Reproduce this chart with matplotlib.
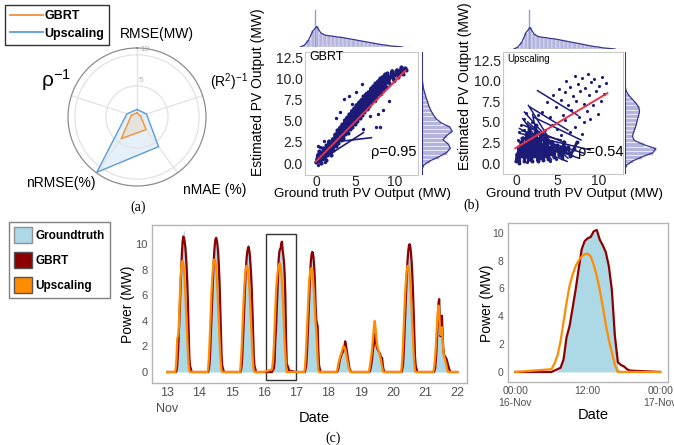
import numpy as np
import matplotlib
matplotlib.use("Agg")
import matplotlib.pyplot as plt
from matplotlib.patches import Patch, Rectangle
from matplotlib.lines import Line2D

plt.rcParams['font.family'] = ['Liberation Sans', 'DejaVu Sans']
plt.rcParams['mathtext.fontset'] = 'custom'
plt.rcParams['mathtext.rm'] = 'Liberation Sans'
plt.rcParams['mathtext.it'] = 'Liberation Sans:italic'

# ---------------- data ----------------
# (a) error metrics per method
metric_names = ['RMSE(MW)', '(R$^2$)$^{-1}$', 'nMAE (%)', 'nRMSE(%)', 'ρ$^{-1}$']
gbrt_metrics = [0.65, 0.6, 2.5, 4.3, 0.95]
upscaling_metrics = [1.2, 1.6, 5.9, 11.0, 1.7]

# (b) estimated vs ground-truth PV output (MW); the "track" samples are consecutive records
gbrt_track_true = [0.0, 0.1, 0.2, 0.3, 0.4, 0.5, 0.6, 0.7, 0.8, 0.9, 1.0, 1.1, 1.2, 1.3, 1.4,
                   1.5, 1.6, 1.7, 1.8, 1.9, 2.0,
                   2.1, 2.2, 2.3, 2.4, 2.5, 2.6, 2.7, 2.8, 2.9, 3.0, 3.1, 3.2, 3.3, 3.4, 3.5,
                   3.6, 3.7, 3.8, 3.9, 4.0, 4.1, 4.2, 4.3, 4.4, 4.5, 4.6, 4.7, 4.8, 4.9, 5.0,
                   5.1, 5.2, 5.3, 5.4, 5.5, 5.6, 5.7, 5.8, 5.9, 6.0,
                   6.1, 6.2, 6.3, 6.4, 6.5, 6.6, 6.7, 6.8, 6.9, 7.0, 7.1, 7.2, 7.3, 7.4, 7.5,
                   7.6, 7.7, 7.8, 7.9, 8.0, 8.1, 8.2, 8.3, 8.4, 8.5, 8.6, 8.7, 8.8, 8.9, 9.0,
                   9.2, 9.4, 9.6, 9.8, 10.0, 10.2, 10.4, 10.6, 10.8, 11.0, 11.2, 11.4]
gbrt_track_pred = [0.1, 0.5, 1.0, 0.2, 1.4, 0.7, 0.0, 1.2, 0.5, 1.8, 0.9, 1.4, 0.4, 2.1, 1.0,
                   1.7, 2.6, 1.3, 2.2, 0.9, 1.8,
                   2.9, 1.6, 2.3, 3.4, 2.0, 2.8, 3.9, 2.4, 3.3, 4.2, 2.7, 3.6, 4.6, 3.0, 3.9,
                   5.1, 3.4, 4.3, 5.4, 3.6, 4.7, 5.8, 4.0, 5.0, 6.2, 4.3, 5.4, 6.5, 4.6, 5.7,
                   6.9, 5.0, 6.1, 7.2, 5.3, 6.4, 7.5, 5.7, 6.8, 7.9,
                   6.0, 7.1, 8.2, 6.4, 7.4, 8.4, 6.7, 7.8, 8.8, 7.1, 8.1, 9.1, 7.4, 8.4, 9.4,
                   7.7, 8.7, 9.7, 8.1, 9.0, 10.0, 8.4, 9.3, 10.2, 8.7, 9.6, 10.5, 9.0, 9.9, 10.6,
                   9.4, 10.2, 10.9, 9.8, 10.5, 11.0, 10.1, 10.8, 11.3, 10.5, 11.2, 11.0]
gbrt_other_true = [0.2, 0.5, 1.0, 0.3, 1.1, 3.5, 4.2, 5.0, 4.6, 5.8, 6.0, 7.6, 8.1, 7.8, 8.5,
                   9.2, 6.8, 3.0, 2.5, 0.6, 1.4, 2.2, 3.0, 3.8, 4.6, 5.4, 6.2, 7.0, 7.8, 8.6,
                   9.4, 10.2, 0.4, 1.8, 2.6, 3.4, 4.2, 5.0, 5.8, 6.6, 7.4, 8.2, 9.0, 9.8]
gbrt_other_pred = [2.0, 1.9, 2.6, -0.2, 0.1, 7.6, 7.9, 8.4, 7.0, 9.3, 4.0, 4.3, 4.2, 5.8, 6.3,
                   7.3, 5.5, 6.0, 5.3, 1.0, 1.8, 2.6, 3.5, 4.3, 5.1, 6.0, 6.8, 7.6, 8.5, 9.3,
                   10.1, 10.9, 0.6, 1.5, 2.4, 3.2, 4.0, 4.9, 5.7, 6.5, 7.3, 8.1, 9.0, 9.7]
gbrt_streak_x = [[1.5, 7.0], [2.0, 6.0]]
gbrt_streak_y = [[2.4, 3.0], [1.2, 3.6]]
gbrt_fit_x = [0.0, 11.3]
gbrt_fit_y = [0.2, 10.9]

up_track_true = [0.0, 0.1, 0.2, 0.3, 0.4, 0.5, 0.6, 0.7, 0.8, 0.9, 1.0, 1.1, 1.2, 1.3, 1.4,
                 1.5, 1.6, 1.7, 1.8, 1.9, 2.0, 2.1, 2.2, 2.3, 2.4, 2.5, 2.6, 2.7, 2.8, 2.9,
                 3.0, 3.1, 3.2, 3.3, 3.4, 3.5, 3.6, 3.7, 3.8, 3.9, 4.0,
                 4.2, 4.4, 4.6, 4.8, 5.0, 5.2, 5.4, 5.6, 5.8, 6.0, 6.3, 6.6, 7.0, 7.4]
up_track_pred = [0.2, 1.1, 0.5, 2.0, 0.0, 1.5, 2.6, 0.8, 3.1, 1.9, 0.3, 2.4, 1.2, 3.6, 0.6,
                 2.0, 4.2, 1.0, 2.9, 0.2, 1.6, 3.3, 0.8, 2.2, 4.6, 1.2, 0.3, 2.7, 1.7, 0.6,
                 3.5, 1.3, 2.2, 0.4, 1.8, 2.9, 0.9, 1.5, 2.4, 0.5, 1.9,
                 1.1, 2.6, 0.7, 1.6, 2.2, 1.0, 1.9, 0.6, 2.6, 1.3, 2.0, 0.9, 1.7, 2.5]
up_other_true = [0.3, 0.6, 1.0, 1.2, 0.9, 0.2, 1.9, 0.1, 0.4, 0.7, 1.0, 1.3, 1.6, 0.5, 0.8,
                 1.5, 2.0, 2.6, 3.3, 4.1, 4.9,
                 3.2, 3.8, 4.1, 4.5, 4.9, 5.2, 5.4, 5.7, 5.9, 6.1, 6.3, 6.5, 6.7, 6.9, 7.1,
                 7.3, 7.5, 7.7, 7.8, 8.0, 8.2, 8.4, 8.6, 8.7, 8.9, 9.1, 9.3, 9.5, 9.7, 9.9,
                 10.1, 10.3, 10.5, 10.7, 10.9, 4.4, 5.0, 6.0, 7.2, 8.3, 9.0, 3.5, 2.7, 6.6,
                 8.0, 5.5]
up_other_pred = [3.8, 4.6, 5.3, 6.1, 4.0, 2.8, 5.0, 0.6, 0.3, 1.6, 1.0, 0.1, 1.3, 0.9, 2.2,
                 0.4, 0.9, 1.9, 1.0, 0.3, 0.5,
                 6.2, 7.4, 5.6, 8.3, 6.8, 9.0, 7.7, 5.9, 8.6, 10.0, 7.1, 9.3, 6.4, 8.2, 10.6,
                 7.6, 9.6, 5.6, 8.8, 10.3, 7.2, 9.1, 6.3, 10.8, 8.3, 9.8, 7.0, 10.2, 8.8, 6.0,
                 9.4, 7.6, 10.5, 8.4, 9.7, 4.6, 4.2, 5.2, 4.4, 5.0, 5.3, 4.0, 5.8, 3.8,
                 3.5, 3.4]
up_streak_x0 = [2.6, 1.7, 2.1, 0.5, 1.3, 1.0, 0.8, 0.4, 1.5, 0.6, 0.9, 2.0, 0.3, 1.1, 1.4, 0.7]
up_streak_y0 = [8.8, 6.8, 5.6, 3.6, 4.8, 6.2, 5.4, 4.2, 7.0, 3.0, 4.6, 5.9, 2.6, 3.4, 5.0, 3.9]
up_streak_x1 = [7.5, 6.3, 7.9, 9.0, 6.3, 5.2, 4.3, 6.9, 3.8, 7.6, 5.8, 3.0, 6.2, 8.2, 4.8, 5.5]
up_streak_y1 = [5.8, 4.0, 2.8, 1.6, 0.6, 1.5, 0.4, 0.9, 3.3, 0.6, 2.5, 1.0, 0.2, 1.2, 2.0, 2.8]
up_fit_x = [-0.1, 11.1]
up_fit_y = [1.8, 8.5]

# marginal distributions (relative density per 0.5 MW bin)
bin_centres = [-0.75, -0.25, 0.25, 0.75, 1.25, 1.75, 2.25, 2.75, 3.25, 3.75, 4.25, 4.75, 5.25,
               5.75, 6.25, 6.75, 7.25, 7.75, 8.25, 8.75, 9.25, 9.75, 10.25, 10.75, 11.25, 11.75]
truth_density = [0.0, 0.05, 0.18, 0.42, 0.55, 0.38, 0.32, 0.30, 0.29, 0.27, 0.26, 0.24, 0.22,
                 0.20, 0.18, 0.16, 0.14, 0.12, 0.10, 0.08, 0.06, 0.05, 0.03, 0.02, 0.01, 0.0]
truth_zero_peak = (1.1, 1.0)
gbrt_pred_density = [0.0, 0.05, 0.25, 0.55, 0.80, 0.92, 0.85, 0.68, 0.80, 0.98, 0.90, 0.62, 0.45,
                     0.36, 0.28, 0.22, 0.18, 0.13, 0.09, 0.05, 0.03, 0.01, 0.0, 0.0, 0.0, 0.0]
up_pred_density = [0.0, 0.05, 0.25, 0.55, 0.90, 1.0, 0.60, 0.30, 0.24, 0.28, 0.33, 0.37, 0.40,
                   0.44, 0.47, 0.45, 0.36, 0.24, 0.12, 0.04, 0.01, 0.0, 0.0, 0.0, 0.0, 0.0]

# (c) half-hourly power (MW) from 06:00 to 19:00, 13-21 Nov
first_day = 13
groundtruth_days = [
    [0, 0, 0.1, 0.4, 1.3, 2.6, 3.6, 5.0, 6.6, 7.9, 9.4, 10.4, 11.0, 11.1, 10.8, 10.3, 9.6, 8.7, 7.4, 5.6, 3.4, 1.4, 0.4, 0.1, 0, 0, 0],
    [0, 0, 0.1, 0.5, 1.4, 2.7, 4.0, 5.4, 6.9, 8.1, 9.1, 9.8, 10.2, 10.3, 10.1, 9.7, 9.0, 8.0, 6.7, 5.0, 3.0, 1.2, 0.3, 0.1, 0, 0, 0],
    [0, 0, 0.1, 0.4, 1.3, 2.5, 3.8, 5.2, 6.6, 7.8, 8.8, 9.5, 9.9, 10.1, 9.9, 9.4, 8.7, 7.7, 6.4, 4.8, 2.9, 1.1, 0.3, 0.1, 0, 0, 0],
    [0, 0, 0.1, 0.4, 1.2, 2.4, 3.4, 4.8, 6.4, 7.5, 8.7, 9.3, 9.6, 9.9, 10.0, 10.1, 9.6, 9.0, 8.3, 7.3, 5.4, 2.2, 0.3, 0.1, 0, 0, 0],
    [0, 0, 0.1, 0.4, 1.2, 2.4, 3.6, 5.0, 6.4, 7.6, 8.5, 9.0, 9.2, 9.1, 8.7, 8.0, 6.8, 5.0, 4.0, 3.8, 3.4, 1.5, 0.4, 0.1, 0, 0, 0],
    [0, 0, 0.1, 0.3, 0.6, 0.8, 1.0, 1.2, 1.1, 1.3, 1.5, 1.6, 1.8, 1.7, 1.8, 1.6, 1.4, 1.0, 0.6, 0.3, 0.1, 0, 0, 0, 0, 0, 0],
    [0, 0, 0.1, 0.3, 0.6, 1.0, 1.3, 1.6, 1.8, 2.0, 2.2, 2.0, 1.8, 1.6, 1.5, 1.4, 1.3, 1.1, 1.0, 0.8, 0.5, 0.2, 0.1, 0, 0, 0, 0],
    [0, 0, 0.1, 0.4, 1.2, 2.5, 3.7, 5.1, 6.5, 7.7, 8.6, 9.2, 9.6, 9.7, 9.5, 9.0, 8.3, 7.4, 6.1, 4.6, 2.8, 1.1, 0.3, 0.1, 0, 0, 0],
    [0, 0, 0.1, 0.3, 0.8, 1.6, 2.6, 3.8, 4.8, 5.0, 3.5, 2.6, 3.8, 4.2, 3.0, 1.8, 1.3, 1.2, 1.1, 1.0, 0.8, 0.6, 0.4, 0.2, 0.1, 0, 0],
]
gbrt_days = [
    [0, 0, 0.1, 0.5, 1.4, 2.5, 3.8, 5.2, 6.8, 8.1, 9.3, 10.2, 10.6, 10.5, 10.2, 9.8, 9.1, 8.2, 7.0, 5.3, 3.1, 1.2, 0.5, 0.3, 0.1, 0, 0],
    [0, 0, 0.2, 0.6, 1.5, 2.8, 4.1, 5.6, 7.0, 8.3, 9.3, 10.0, 10.4, 10.5, 10.3, 9.9, 9.3, 8.3, 7.0, 5.2, 3.1, 1.3, 0.5, 0.3, 0.1, 0, 0],
    [0, 0, 0.2, 0.5, 1.4, 2.6, 3.9, 5.3, 6.7, 7.8, 8.7, 9.3, 9.6, 9.8, 9.6, 9.2, 8.5, 7.6, 6.4, 4.8, 2.9, 1.2, 0.5, 0.3, 0.1, 0, 0],
    [0, 0.1, 0.2, 0.3, 0.9, 2.5, 3.3, 4.6, 5.9, 7.4, 8.8, 9.4, 9.6, 9.7, 10.1, 10.2, 9.5, 9.1, 8.6, 7.6, 5.9, 2.6, 0.7, 0.5, 0.4, 0.2, 0.1],
    [0, 0, 0.2, 0.5, 1.3, 2.5, 3.8, 5.2, 6.6, 7.8, 8.7, 9.2, 9.4, 9.3, 8.9, 8.2, 7.0, 5.2, 4.1, 3.8, 3.6, 1.8, 0.6, 0.3, 0.1, 0, 0],
    [0, 0, 0.1, 0.3, 0.6, 0.9, 1.1, 1.2, 1.4, 1.5, 1.6, 1.8, 2.0, 2.4, 2.2, 1.8, 1.5, 1.1, 0.8, 0.4, 0.2, 0.1, 0, 0, 0, 0, 0],
    [0, 0, 0.1, 0.3, 0.6, 1.0, 1.5, 1.9, 2.2, 2.8, 3.0, 2.4, 2.0, 1.8, 1.7, 1.6, 1.5, 1.4, 1.2, 1.1, 1.1, 0.6, 0.2, 0.1, 0, 0, 0],
    [0, 0, 0.2, 0.5, 1.3, 2.6, 3.9, 5.3, 6.7, 7.9, 8.8, 9.5, 9.9, 10.0, 9.8, 9.3, 8.6, 7.6, 6.3, 4.7, 2.8, 1.2, 0.5, 0.3, 0.1, 0, 0],
    [0, 0, 0.1, 0.3, 0.9, 1.8, 2.9, 4.2, 5.4, 5.7, 3.8, 2.8, 4.0, 4.4, 3.2, 1.9, 1.4, 1.2, 1.2, 1.1, 1.0, 0.8, 0.6, 0.4, 0.2, 0.1, 0],
]
upscaling_days = [
    [0, 0.4, 1.2, 2.6, 2.8, 3.0, 4.6, 6.2, 7.4, 8.2, 8.6, 8.7, 8.5, 8.0, 7.2, 6.2, 5.0, 3.8, 2.6, 1.5, 0.6, 0.1, 0, 0, 0, 0, 0],
    [0, 0.3, 1.0, 2.1, 3.5, 4.9, 6.2, 7.2, 8.0, 8.5, 8.8, 8.8, 8.6, 8.1, 7.3, 6.3, 5.1, 3.8, 2.5, 1.4, 0.6, 0.1, 0, 0, 0, 0, 0],
    [0, 0.3, 1.0, 2.0, 3.3, 4.6, 5.8, 6.8, 7.5, 8.0, 8.3, 8.3, 8.1, 7.6, 6.9, 6.0, 4.9, 3.7, 2.5, 1.4, 0.6, 0.1, 0, 0, 0, 0, 0],
    [0.2, 0.6, 1.2, 2.2, 3.6, 5.0, 6.2, 7.0, 7.6, 8.0, 8.3, 8.45, 8.5, 8.3, 7.7, 6.9, 5.9, 4.7, 3.4, 2.3, 1.4, 0.5, 0, 0, 0, 0, 0],
    [0, 0.3, 1.0, 2.0, 3.2, 4.5, 5.7, 6.7, 7.4, 7.9, 8.1, 8.1, 7.9, 7.4, 6.7, 5.8, 4.7, 3.8, 3.2, 2.2, 1.0, 0.2, 0, 0, 0, 0, 0],
    [0, 0.1, 0.4, 0.7, 0.9, 1.1, 1.3, 1.4, 1.6, 1.8, 2.0, 2.0, 1.9, 1.8, 1.6, 1.3, 1.0, 0.7, 0.4, 0.2, 0.1, 0, 0, 0, 0, 0, 0],
    [0, 0.2, 0.5, 0.9, 1.3, 1.8, 2.4, 3.0, 3.6, 4.0, 3.6, 3.0, 2.4, 2.0, 1.8, 1.6, 1.4, 1.2, 1.0, 0.7, 0.4, 0.1, 0, 0, 0, 0, 0],
    [0, 0.3, 1.0, 2.0, 3.3, 4.6, 5.8, 6.8, 7.5, 8.0, 8.3, 8.3, 8.1, 7.6, 6.9, 6.0, 4.9, 3.7, 2.5, 1.4, 0.6, 0.1, 0, 0, 0, 0, 0],
    [0, 0.2, 0.6, 1.2, 2.0, 3.0, 4.0, 4.8, 5.2, 4.7, 3.5, 2.9, 3.4, 3.5, 2.6, 1.7, 1.3, 1.1, 0.9, 0.7, 0.4, 0.2, 0, 0, 0, 0, 0],
]
zoom_day = 16
date_ticks = [13, 14, 15, 16, 17, 18, 19, 20, 21, 22]
date_labels = ['13\nNov', '14', '15', '16', '17', '18', '19', '20', '21', '22']
zoom_ticks = [0, 12, 24]
zoom_labels = ['00:00\n16-Nov', '12:00', '00:00\n17-Nov']

# ---------------- styling ----------------
ORANGE_A = '#f0923a'
BLUE_A = '#5b9bd5'
NAVY = '#1c1c78'
FIT_RED = '#e8334a'
HIST_FILL = '#b4b4de'
KDE_LINE = '#34348c'
GT_FILL = '#add8e6'
GBRT_C = '#8b0000'
UP_C = '#ff8c00'
SPINE = '#b5b5b5'
TICK_C = '#505050'

W, H = 674, 445
fig = plt.figure(figsize=(W / 100, H / 100), dpi=100)


def px_axes(l, t, r, b, **kw):
    return fig.add_axes([l / W, 1 - b / H, (r - l) / W, (b - t) / H], **kw)


def px_text(x, y, s, **kw):
    return fig.text(x / W, 1 - y / H, s, **kw)


# ---------------- (a) radar ----------------
rax = px_axes(68, 48, 206, 186, projection='polar')
rax.set_theta_offset(np.pi / 2)
rax.set_theta_direction(-1)
angles = np.deg2rad(np.arange(len(metric_names)) * 360 / len(metric_names))
closed = np.append(angles, angles[0])
for vals, col in [(upscaling_metrics, BLUE_A), (gbrt_metrics, ORANGE_A)]:
    v = np.append(vals, vals[0])
    rax.fill(closed, v, color=col, alpha=0.15, lw=0)
    rax.plot(closed, v, color=col, lw=1.0)
rax.set_ylim(0, 11.1)
rax.set_yticks([5, 10])
rax.set_yticklabels([])
rax.set_xticks(angles)
rax.set_xticklabels([])
rax.grid(color='#e2e2e2', lw=0.9)
rax.spines['polar'].set_color('#8c8c8c')
rax.spines['polar'].set_linewidth(0.9)
for r, lab in [(5, '5'), (10, '10')]:
    rax.text(0.06, r + 0.3, lab, fontsize=6, color='#b0b0b0', ha='left', va='bottom')

px_text(157, 34, metric_names[0], fontsize=10, ha='center', va='center')
px_text(229, 82, metric_names[1], fontsize=10, ha='center', va='center')
px_text(183, 190, metric_names[2], fontsize=10, ha='left', va='center')
px_text(61, 183, metric_names[3], fontsize=10, ha='center', va='center')
px_text(56, 80, metric_names[4], fontsize=15, ha='center', va='center')
px_text(138, 207, '(a)', fontsize=10, ha='center', va='center', family='Liberation Serif')

fig.legend(handles=[Line2D([], [], color=ORANGE_A, lw=1.3, label='GBRT'),
                    Line2D([], [], color=BLUE_A, lw=1.3, label='Upscaling')],
           loc='upper left', bbox_to_anchor=(5 / W, 1 - 5 / H),
           prop={'weight': 'bold', 'size': 9}, handlelength=2.6, handletextpad=0.15,
           borderpad=0.4, labelspacing=0.45, borderaxespad=0, fancybox=False,
           edgecolor='#333333', framealpha=1)


# ---------------- (b) joint plots ----------------
def joint(main_box, top_box, right_box, xlim, ylim, right_density, right_max):
    ax = px_axes(*main_box)
    ax.set_xlim(*xlim)
    ax.set_ylim(*ylim)
    ax.set_xticks([0, 5, 10])
    ax.set_yticks([0, 2.5, 5, 7.5, 10, 12.5])
    ax.set_yticklabels(['0.0', '2.5', '5.0', '7.5', '10.0', '12.5'])
    ax.tick_params(length=0, labelsize=10, colors='#222222')
    ax.tick_params(axis='x', pad=0)
    ax.tick_params(axis='y', pad=1.5)
    for s in ax.spines.values():
        s.set_color('#c8c8c8')
        s.set_linewidth(0.8)

    top = px_axes(*top_box)
    top.set_xlim(*xlim)
    top.set_ylim(0, 1.1)
    top.bar(bin_centres, truth_density, width=0.5, color=HIST_FILL, edgecolor='white', lw=0.3)
    top.plot([truth_zero_peak[0]] * 2, [0, truth_zero_peak[1]], color='#9c9cd0', lw=1.0)
    top.plot(bin_centres, truth_density, color=KDE_LINE, lw=0.9)
    top.axhline(0, color=KDE_LINE, lw=0.8)
    top.axis('off')

    right = px_axes(*right_box)
    right.set_ylim(*ylim)
    right.set_xlim(0, right_max)
    right.barh(bin_centres, right_density, height=0.5, color=HIST_FILL, edgecolor='white', lw=0.4)
    right.plot(right_density, bin_centres, color=KDE_LINE, lw=0.9)
    right.axvline(0, color=KDE_LINE, lw=0.8)
    right.axis('off')
    return ax


ax_g = joint((305, 52, 418, 175), (295, 6, 412, 47), (422, 52, 459, 175),
             (-1.4, 12.9), (-1.4, 13.1), gbrt_pred_density, 1.2)
ax_g.plot(gbrt_track_true, gbrt_track_pred, color=NAVY, lw=2.0, solid_joinstyle='round')
for sx, sy in zip(gbrt_streak_x, gbrt_streak_y):
    ax_g.plot(sx, sy, color=NAVY, lw=1.2)
ax_g.scatter(gbrt_track_true, gbrt_track_pred, s=9, color=NAVY, lw=0)
ax_g.scatter(gbrt_other_true, gbrt_other_pred, s=6, color=NAVY, lw=0)
ax_g.plot(gbrt_fit_x, gbrt_fit_y, color=FIT_RED, lw=1.4)
px_text(309, 57, 'GBRT', fontsize=9, ha='left', va='center')
px_text(394, 152, 'ρ=0.95', fontsize=10.5, ha='center', va='center')

ax_u = joint((503, 52, 623, 174), (507, 6, 625, 49), (625, 52, 662, 174),
             (-1.6, 13.0), (-1.33, 13.5), up_pred_density, 1.2)
ax_u.plot(up_track_true, up_track_pred, color=NAVY, lw=2.0, solid_joinstyle='round')
for x0, y0, x1, y1 in zip(up_streak_x0, up_streak_y0, up_streak_x1, up_streak_y1):
    ax_u.plot([x0, x1], [y0, y1], color=NAVY, lw=1.1)
ax_u.scatter(up_track_true, up_track_pred, s=8, color=NAVY, lw=0)
ax_u.scatter(up_other_true, up_other_pred, s=5, color=NAVY, lw=0)
ax_u.plot(up_fit_x, up_fit_y, color=FIT_RED, lw=1.4)
px_text(507, 59, 'Upscaling', fontsize=7, ha='left', va='center')
px_text(601, 152, 'ρ=0.54', fontsize=10.5, ha='center', va='center')

for x, y in [(258, 92), (465, 86)]:
    px_text(x, y, 'Estimated PV Output (MW)', fontsize=10, rotation=90, ha='center', va='center')
for x in [363, 575]:
    px_text(x, 194, 'Ground truth PV Output (MW)', fontsize=9.6, ha='center', va='center')
px_text(471, 205, '(b)', fontsize=10, ha='center', va='center', family='Liberation Serif')

# ---------------- (c) time series ----------------
t_all, gt_all, gb_all, up_all = [first_day], [0.0], [0.0], [0.0]
for i, (g, b, u) in enumerate(zip(groundtruth_days, gbrt_days, upscaling_days)):
    day = first_day + i
    hrs = 6 + 0.5 * np.arange(len(g))
    t_all += [day] + list(day + hrs / 24)
    gt_all += [0.0] + list(g)
    gb_all += [0.0] + list(b)
    up_all += [0.0] + list(u)
last = first_day + len(groundtruth_days)
t_all.append(last)
gt_all.append(0.0)
gb_all.append(0.0)
up_all.append(0.0)


def style_ts(ax):
    for s in ax.spines.values():
        s.set_color(SPINE)
        s.set_linewidth(1.0)
    ax.tick_params(length=0, colors=TICK_C, pad=3)
    ax.set_yticks([0, 2, 4, 6, 8, 10])


cax = px_axes(152, 225, 467, 383)
cax.fill_between(t_all, 0, gt_all, color=GT_FILL, lw=0)
cax.plot(t_all, gb_all, color=GBRT_C, lw=1.6)
cax.plot(t_all, up_all, color=UP_C, lw=1.6)
cax.add_patch(Rectangle((zoom_day + 0.06, -0.6), 0.94, 11.4, fill=False, ec='#333333', lw=1.0))
cax.set_xlim(12.53, 22.3)
cax.set_ylim(-0.86, 11.5)
style_ts(cax)
cax.set_xticks(date_ticks)
cax.set_xticklabels(date_labels, fontsize=9, linespacing=1.4)
cax.tick_params(axis='y', labelsize=8)
px_text(128, 304, 'Power (MW)', fontsize=10, rotation=90, ha='center', va='center')
px_text(314, 418, 'Date', fontsize=10.5, ha='center', va='center')
px_text(333, 438, '(c)', fontsize=10, ha='center', va='center', family='Liberation Serif')

k = zoom_day - first_day
zh = [0.0] + list(6 + 0.5 * np.arange(len(groundtruth_days[k]))) + [24.0]
zg = [0.0] + groundtruth_days[k] + [0.0]
zb = [0.0] + gbrt_days[k] + [0.0]
zu = [0.0] + upscaling_days[k] + [0.0]
zax = px_axes(508, 223, 668, 382)
zax.fill_between(zh, 0, zg, color=GT_FILL, lw=0)
zax.plot(zh, zb, color=GBRT_C, lw=1.6)
zax.plot(zh, zu, color=UP_C, lw=1.6)
zax.set_xlim(-1.2, 25.3)
zax.set_ylim(-0.72, 10.7)
style_ts(zax)
zax.set_xticks(zoom_ticks)
zax.set_xticklabels(zoom_labels, fontsize=7.5)
zax.tick_params(axis='y', labelsize=7.5)
px_text(487, 303, 'Power (MW)', fontsize=10, rotation=90, ha='center', va='center')
px_text(593, 415, 'Date', fontsize=10.5, ha='center', va='center')

fig.legend(handles=[Patch(fc=GT_FILL, ec='#909090', label='Groundtruth'),
                    Patch(fc=GBRT_C, ec='#555555', label='GBRT'),
                    Patch(fc=UP_C, ec='#555555', label='Upscaling')],
           loc='upper left', bbox_to_anchor=(9 / W, 1 - 222 / H),
           prop={'weight': 'bold', 'size': 8.5}, handlelength=1.5, handleheight=1.7,
           handletextpad=0.3, labelspacing=0.75, borderpad=0.45, borderaxespad=0,
           fancybox=False, edgecolor='#808080', framealpha=1)

fig.savefig('out.png', dpi=100)
